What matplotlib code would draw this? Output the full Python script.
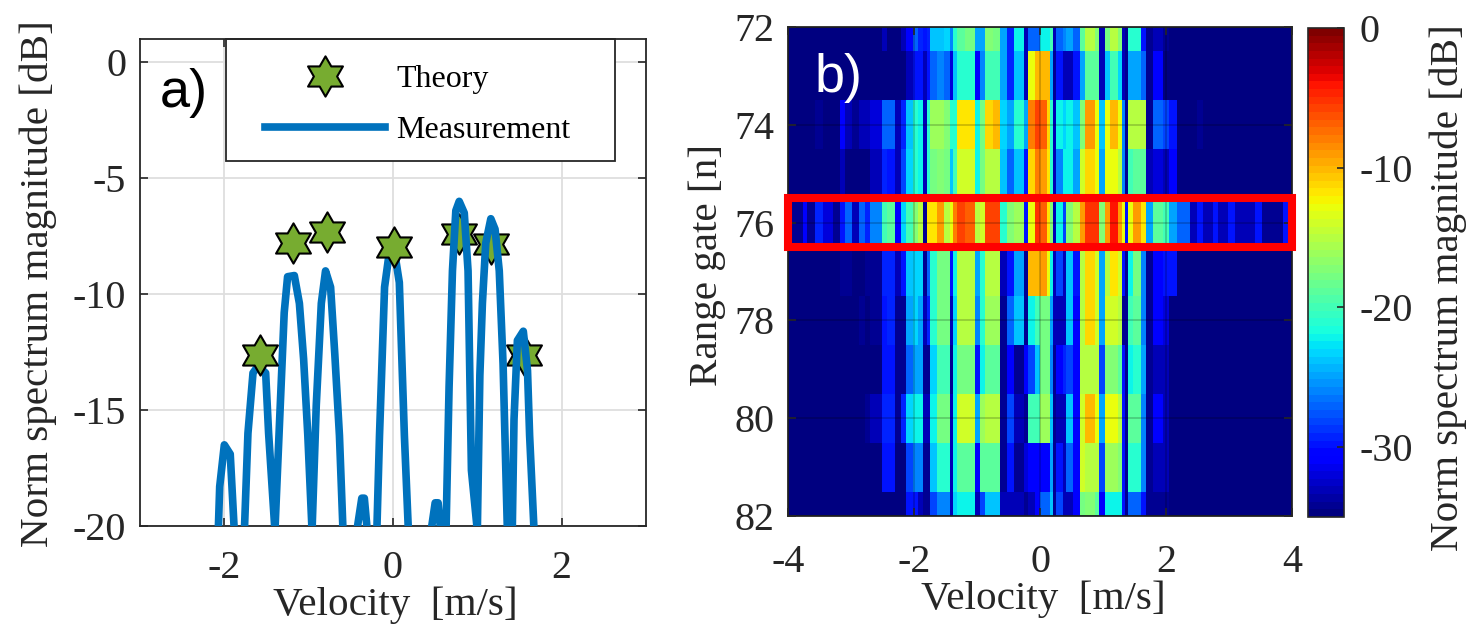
"""Two panel figure: a) Doppler spectrum cut, b) range-velocity map."""
import numpy as np
import matplotlib
matplotlib.use("Agg")
import matplotlib.pyplot as plt
from matplotlib.lines import Line2D
from matplotlib.path import Path
from matplotlib.patches import Rectangle

plt.rcParams['font.family'] = ['Liberation Serif', 'DejaVu Serif']
plt.rcParams['axes.unicode_minus'] = False
W, H = 1480, 639

# panel a: measured curve (-24 = below the axis floor, clipped)
meas_v = [-2.2, -2.07, -2.055, -2.0, -1.93, -1.885, -1.82, -1.76, -1.72, -1.66, -1.60, -1.51,
          -1.475, -1.40, -1.345, -1.29, -1.25, -1.17, -1.11, -1.06, -1.01, -0.96, -0.91, -0.85,
          -0.80, -0.74, -0.69, -0.635, -0.595, -0.50, -0.42, -0.37, -0.34, -0.31, -0.25, -0.19,
          -0.16, -0.10, -0.04, 0.015, 0.075, 0.135, 0.18, 0.32, 0.46, 0.50, 0.535, 0.56,
          0.60, 0.63, 0.665, 0.705, 0.745, 0.785, 0.845, 0.89, 0.93, 1.0, 1.03, 1.06, 1.10, 1.16,
          1.21, 1.26, 1.305, 1.355, 1.385, 1.415, 1.435, 1.475, 1.545, 1.595, 1.62, 1.67, 1.8]
meas_db = [-24, -20, -18.3, -16.5, -16.9, -20, -24, -20, -16, -13.4, -13.1, -13.4,
           -16, -20.2, -15.5, -10.8, -9.25, -9.2, -10.4, -12.8, -16.1, -20.2, -14.8, -10.4,
           -9.0, -9.7, -12.6, -16.1, -20, -24, -20, -18.8, -18.8, -20, -24, -20,
           -16.1, -9.7, -8.1, -8.1, -9.5, -16.1, -20, -24, -20, -19, -19, -20,
           -24, -20, -14, -9, -6.4, -6.0, -6.5, -9, -17.6, -20.2, -13.5, -10.4, -7.8, -6.75,
           -7.2, -9, -13, -20, -24, -20, -15.4, -12, -11.6, -13.3, -16.1, -20, -24]
theory_v = [-1.58, -1.18, -0.78, 0.015, 0.785, 1.16, 1.55]
theory_db = [-12.63, -7.79, -7.31, -7.99, -7.39, -7.82, -12.63]

# panel b: velocity bin edges [m/s], range gate edges, spectrum [dB]
vel_edges = [-4.0, -3.76, -3.70, -3.57, -3.44, -3.28, -3.17, -3.10, -2.99, -2.88, -2.78, -2.70,
             -2.51, -2.43, -2.30, -2.20, -2.12, -2.01, -1.93, -1.85, -1.80, -1.75, -1.64, -1.53,
             -1.43, -1.38, -1.32, -1.19, -1.03, -0.95, -0.87, -0.74, -0.63, -0.53, -0.42, -0.26,
             -0.19, -0.08, 0.0, 0.11, 0.16, 0.21, 0.26, 0.37, 0.42, 0.53, 0.63, 0.71, 0.87, 0.93,
             1.03, 1.11, 1.24, 1.30, 1.35, 1.40, 1.48, 1.61, 1.69, 1.79, 1.96, 2.04, 2.17, 2.38,
             2.49, 2.59, 2.75, 2.83, 2.99, 3.10, 3.41, 3.52, 3.86, 3.96, 4.0]
gate_edges = [72, 72.5, 73.5, 74.5, 75.5, 76.5, 77.5, 78.5, 79.5, 80.5, 81.5, 82]

g72_l = [-35]*12 + [-33, -35, -35, -33, -31, -27, -29, -30, -29, -24, -24, -23, -26, -21, -19, -18, -25, -25, -17, -18, -25, -29, -22, -33, -27, -27]
g72_r = [-22, -22, -20, -33, -27, -26, -25, -27, -19, -15, -17, -33, -18, -15, -17, -33, -34, -21, -21, -30, -34, -33, -34]
g73_l = [-35]*16 + [-33, -30, -30, -33, -30, -27, -26, -27, -32, -24, -21, -21, -31, -26, -20, -20, -25, -29, -24, -33, -13, -10]
g73_r = [-10, -10, -25, -34, -30, -33, -33, -30, -25, -19, -19, -33, -24, -20, -23, -33, -34, -25, -25, -27, -34, -31]
g74_l = [-35, -35, -35, -34, -35, -35, -31, -33, -34, -33, -33, -32, -27, -27, -33, -29, -24, -21, -22, -33, -21, -16, -16, -17, -21, -21, -12, -12, -22, -18, -11, -10, -23, -25, -21, -25, -8, -6]
g74_r = [-7, -11, -21, -33, -22, -23, -22, -24, -17, -9, -13, -24, -13, -10, -13, -26, -34, -15, -15, -15, -34, -27, -28, -30, -35, -35, -34]
g75_l = [-35, -35, -35, -35, -35, -35, -33, -35, -35, -35, -35, -33, -29, -30, -33, -28, -23, -21, -22, -33, -21, -18, -17, -18, -24, -20, -14, -14, -22, -18, -15, -15, -24, -27, -24, -30, -11, -8]
g75_r = [-9, -12, -21, -33, -26, -22, -22, -25, -14, -11, -13, -25, -13, -13, -15, -26, -34, -20, -19, -19, -33, -32, -33, -31]
g76_l = [-34, -31, -34, -29, -32, -34, -30, -27, -33, -27, -29, -26, -20, -19, -31, -23, -20, -17, -15, -34, -12, -12, -9, -15, -13, -8, -6, -7, -15, -14, -6, -6, -21, -17, -16, -30, -13, -5]
g76_r = [-7, -12, -17, -33, -22, -28, -17, -15, -9, -5, -5, -17, -9, -4, -9, -13, -30, -13, -9, -12, -25, -19, -20, -25, -27, -33, -30, -33, -30, -33, -30, -33, -30, -34, -30, -34]
g77_l = [-35]*6 + [-34, -34, -35, -35, -34, -34, -29, -29, -33, -30, -24, -23, -23, -34, -27, -21, -18, -18, -30, -22, -15, -15, -25, -21, -15, -15, -33, -30, -25, -34, -10, -10]
g77_r = [-9, -13, -22, -33, -28, -33, -24, -30, -15, -11, -14, -25, -15, -12, -14, -30, -34, -22, -18, -26, -34, -31, -30, -30]
g78_l = [-35]*9 + [-34, -35, -34, -30, -29, -34, -34, -25, -23, -25, -33, -29, -21, -18, -18, -33, -23, -15, -15, -26, -21, -16, -16, -34, -27, -24, -34, -22, -20]
g78_r = [-18, -18, -25, -33, -33, -33, -24, -31, -15, -11, -14, -25, -14, -14, -15, -34, -34, -20, -19, -26, -34, -31, -32]
g79_l = [-35]*12 + [-30, -30, -34, -34, -27, -25, -25, -34, -34, -23, -20, -20, -34, -22, -18, -18, -30, -22, -19, -19, -34, -31, -34, -31, -28, -24]
g79_r = [-18, -18, -26, -34, -31, -29, -28, -31, -15, -15, -15, -28, -17, -17, -19, -30, -34, -22, -21, -25, -34, -33, -33]
g80_l = [-35]*10 + [-34, -33, -29, -29, -34, -29, -23, -22, -22, -33, -33, -22, -18, -18, -33, -22, -14, -14, -25, -16, -15, -15, -34, -28, -33, -34, -20, -20]
g80_r = [-16, -16, -24, -34, -33, -33, -24, -31, -14, -10, -13, -25, -13, -13, -15, -30, -34, -19, -19, -26, -34, -31, -33]
g81_l = [-35]*12 + [-30, -30, -35, -35, -28, -26, -26, -34, -34, -24, -21, -21, -33, -22, -19, -19, -31, -19, -19, -19, -34, -30, -34, -32, -31, -31]
g81_r = [-31, -31, -25, -34, -30, -33, -27, -31, -14, -15, -15, -28, -16, -16, -17, -30, -34, -21, -21, -26, -34, -33, -33]
g82_l = [-35]*16 + [-30, -30, -33, -34, -34, -28, -26, -26, -33, -23, -22, -22, -33, -28, -24, -24, -33, -33, -33, -34, -33, -31]
g82_r = [-27, -27, -24, -34, -28, -33, -33, -31, -18, -17, -19, -31, -22, -22, -22, -30, -34, -27, -27, -30, -34, -34, -34]

lefts = [g72_l, g73_l, g74_l, g75_l, g76_l, g77_l, g78_l, g79_l, g80_l, g81_l, g82_l]
rights = [g72_r, g73_r, g74_r, g75_r, g76_r, g77_r, g78_r, g79_r, g80_r, g81_r, g82_r]
n_right = len(vel_edges) - 1 - len(g72_l)
spectrum = np.array([l + r + [-35]*(n_right - len(r)) for l, r in zip(lefts, rights)], float)


def axes_px(x0, y0, x1, y1):
    return fig.add_axes([x0/W, 1 - y1/H, (x1 - x0)/W, (y1 - y0)/H])


def matlab_box(ax, xpad):
    ax.tick_params(direction='in', length=6, width=1.2, top=True, right=True,
                   color='#262626', labelcolor='#262626', labelsize=TICK_FS)
    ax.tick_params(axis='y', pad=10)
    ax.tick_params(axis='x', pad=xpad)
    for s in ax.spines.values():
        s.set_color('#262626')
        s.set_linewidth(1.3)


TICK_FS = 28.8
LABEL_FS = 29.6
fig = plt.figure(figsize=(W/100, H/100), dpi=100, facecolor='white')

# panel a
ax = axes_px(140, 39, 646, 526)
ax.set_axisbelow(True)
ax.grid(color='0.87', lw=1.3)
hexagram = Path.unit_regular_star(6, innerCircle=0.577)
star_kw = dict(ls='none', marker=hexagram, ms=29, mfc='#77AC30', mec='k', mew=1.5)
ax.plot(meas_v, meas_db, color='#0072BD', lw=5.5, solid_joinstyle='round', zorder=3)
# the first four stars sit over the curve, the last three under it
ax.plot(theory_v[:4], theory_db[:4], zorder=4, **star_kw)
ax.plot(theory_v[4:], theory_db[4:], zorder=2, **star_kw)
ax.set_xlim(-3, 3)
ax.set_ylim(-20, 1)
ax.set_xticks([-2, 0, 2])
ax.set_yticks([-20, -15, -10, -5, 0])
matlab_box(ax, 17)
ax.set_xlabel('Velocity  [m/s]', fontsize=LABEL_FS, color='#262626', va='center')
ax.xaxis.set_label_coords(0.504, -0.162)
ax.set_ylabel('Norm spectrum magnitude [dB]', fontsize=LABEL_FS, color='#262626', va='center')
ax.yaxis.set_label_coords(-0.2015, 0.497)
ax.text(-2.76, -1.35, 'a)', fontsize=39, family='Liberation Sans', va='center', color='k')

ax.add_patch(Rectangle((86/506, 365/487), 389/506, 122/487, transform=ax.transAxes,
                       fc='white', ec='#262626', lw=1.3, zorder=1.5, clip_on=False))
handles = [Line2D([], [], **star_kw), Line2D([], [], color='#0072BD', lw=5.5)]
leg = ax.legend(handles, ['Theory', 'Measurement'], loc='upper left', frameon=False,
                bbox_to_anchor=(125/506, 1 - 26/487), borderpad=0, borderaxespad=0,
                fontsize=23, handlelength=3.75, handletextpad=0.35, labelspacing=0.68)
leg.set_zorder(5)

# panel b
ax2 = axes_px(788, 27, 1292, 516)
mesh = ax2.pcolormesh(vel_edges, gate_edges, spectrum, cmap=plt.get_cmap('jet', 64), vmin=-35, vmax=0)
ax2.set_xlim(-4, 4)
ax2.set_ylim(82, 72)
ax2.set_xticks([-4, -2, 0, 2, 4])
ax2.set_yticks([72, 74, 76, 78, 80, 82])
ax2.grid(color='k', alpha=0.2, lw=1.3)
ax2.set_axisbelow(False)
matlab_box(ax2, 20)
ax2.set_xlabel('Velocity  [m/s]', fontsize=LABEL_FS, color='#262626', va='center')
ax2.xaxis.set_label_coords(0.506, -0.17)
ax2.set_ylabel('Range gate [n]', fontsize=LABEL_FS, color='#262626', va='center')
ax2.yaxis.set_label_coords(-0.16, 0.513)
ax2.add_patch(Rectangle((-4, 75.5), 8, 1, fc='none', ec='red', lw=5.8, zorder=6,
                        clip_on=False, joinstyle='miter'))
ax2.text(-3.58, 73.05, 'b)', fontsize=39, family='Liberation Sans', va='center', color='white', zorder=7)

# colorbar
cax = axes_px(1308, 28, 1344, 517)
cb = fig.colorbar(mesh, cax=cax)
cb.set_ticks([-30, -20, -10, 0])
cb.ax.tick_params(direction='in', length=5, width=1.2, color='#262626',
                  labelcolor='#262626', labelsize=TICK_FS, pad=11)
cb.outline.set_edgecolor('#262626')
cb.outline.set_linewidth(1.2)
cb.set_label('Norm spectrum magnitude [dB]', fontsize=LABEL_FS, color='#262626', va='center')
cb.ax.yaxis.set_label_coords(140/36, 0.469)

fig.savefig('out.png', dpi=100)
plt.close(fig)
